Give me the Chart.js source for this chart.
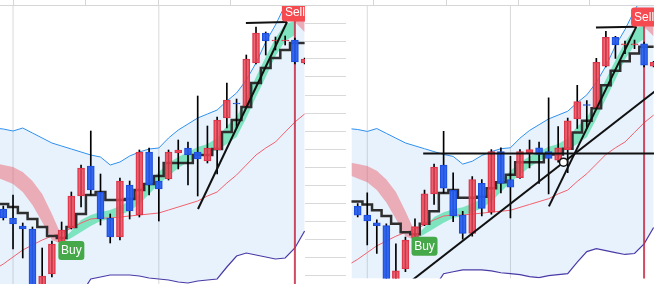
<!DOCTYPE html>
<html><head><meta charset="utf-8">
<script src="https://cdn.jsdelivr.net/npm/chart.js@4.4.1/dist/chart.umd.min.js"></script>
<style>
html,body{margin:0;padding:0;background:#fff;overflow:hidden;width:654px;height:284px;}
#wrap{position:relative;width:654px;height:284px;overflow:hidden;}
canvas{position:absolute;top:0;}
#c1{left:0;}
#c2{left:346px;}
#strip{position:absolute;left:0;top:0;width:654px;height:5px;background:#fff;border-bottom:1px solid #d6d6d6;z-index:2;}
.sep{position:absolute;top:0;width:1px;height:5px;background:#d6d6d6;}
</style></head><body>
<div id="wrap">
<canvas id="c1" width="346" height="284"></canvas>
<canvas id="c2" width="349" height="284"></canvas>
<div id="strip">
<div class="sep" style="left:13px"></div><div class="sep" style="left:85px"></div>
<div class="sep" style="left:158px"></div><div class="sep" style="left:230px"></div>
<div class="sep" style="left:373px"></div><div class="sep" style="left:446px"></div>
<div class="sep" style="left:518px"></div><div class="sep" style="left:589px"></div>
</div>
</div>
<script>
// ---- data (price points) ----
const candleIndex = [-1,0,1,2,3,4,5,6,7,8,9,10,11,12,13,14,15,16,17,18,19,20,21,22,23,24,25,26,27,28,29,30,31];
const openPrice  = [null,102,93,85,82,11,37,69,83,115,145,119,93,74,126,96,159,130,132,158,163,159,150,161,193,208,205,248,278,270,270,271,248];
const highPrice  = [null,105,116,88,84,63,70,89,119,146,180,137,97,133,130,161,163,154,161,171,169,215,185,194,228,212,256,284,279,274,275,273,253];
const lowPrice   = [null,91,62,53,1,6,34,66,82,104,116,86,68,71,92,94,116,90,131,142,126,115,148,137,183,183,204,247,256,261,266,247,247];
const closePrice = [null,93,87,82,11,35,67,81,115,143,121,92,74,130,100,159,126,122,159,161,156,152,163,191,211,207,252,278,270,271,271,249,252];

const bbUpper  = [183,182,180,183,178,173,168,165,162,159,156,154,146,149,155,159,162,163,173,181,187,193,197,201,210,218,231,248,269,286,306,323,336];
const bbMiddle = [41,47,54,61,66,71,75,78,83,88,92,93,93,94,95,96,97,98,101,104,107,110,115,119,128,136,146,156,163,169,179,189,197];
const bbLower  = [-101,-88,-72,-61,-46,-31,-18,-9,4,17,32,34,36,36,36,35,33,32,31,29,28,30,31,32,44,55,58,56,54,52,53,63,80];
const baseLine = [107,107,104,98,92,84,75,73,84,97,116,119,111,111,112,121,127,135,148,148,148,156,156,162,179,191,204,228,243,253,261,268,268];

const bearCloudTop    = [148,146,144,139,130,117,97,75,null,null,null,null,null,null,null,null,null,null,null,null,null,null,null,null,null,null,null,null,null,null,null,291,293];
const bearCloudBottom = [135,131,127,119,106,89,71,67,null,null,null,null,null,null,null,null,null,null,null,null,null,null,null,null,null,null,null,null,null,null,null,289,279];
const bullCloudTop    = [null,null,null,null,null,null,null,71,80,91,96,99,101,105,110,117,129,139,148,154,159,164,167,173,185,194,213,234,254,273,287,290,null];
const bullCloudBottom = [null,null,null,null,null,null,null,68,73,79,85,90,92,96,100,107,117,127,135,143,149,155,159,161,167,174,193,214,234,255,270,276,null];

const signalIndex = [7, 30];
const signalLabel = ['Buy', 'Sell'];
const signalPrice = [60.5, 299];
const sellLineTop = 291;

const trendSteep      = [{x:20.03,y:102},{x:29.19,y:289}];
const trendTop        = [{x:24.96,y:288},{x:29.19,y:289}];
const trendHorizontal = [{x:6.86,y:157},{x:32,y:157}];
const trendDiagonal   = [{x:5.6,y:24.4},{x:31.5,y:224.6}];
const touchPoint      = [{x:21.56,y:148}];

const gridPrices = [36,54,72,90,108,126,144,162,180,198,216,234,252,270,288];
const timeGridIndex = [1,16];
const priceMin = 27, priceMax = 311;

// ---- helpers ----
function pts(arr, keepGaps){
  const out = [];
  candleIndex.forEach((x,k)=>{
    const v = arr[k];
    if (v !== null && v !== undefined) out.push({x, y:v});
    else if (keepGaps) out.push({x, y:null});
  });
  return out;
}
function lineDs(data, color, width, order, extra){
  return Object.assign({type:'line', data, borderColor:color, borderWidth:width, pointRadius:0,
    tension:0, fill:false, spanGaps:false, order}, extra||{});
}

const signalPlugin = {
  id:'signals',
  afterDatasetsDraw(chart){
    const {ctx, chartArea:a} = chart;
    const xs = chart.scales.x, ys = chart.scales.y;
    ctx.save();
    ctx.beginPath(); ctx.rect(a.left, a.top, a.right-a.left, a.bottom-a.top); ctx.clip();
    ctx.font = '12px "Liberation Sans", Arial, sans-serif';
    ctx.textAlign = 'center'; ctx.textBaseline = 'middle';
    signalIndex.forEach((si,k)=>{
      const cx = xs.getPixelForValue(si), cy = ys.getPixelForValue(signalPrice[k]);
      const w = 26, h = 19, r = 3;
      ctx.fillStyle = signalLabel[k] === 'Buy' ? '#45a849' : '#f54a50';
      ctx.beginPath();
      if (ctx.roundRect) ctx.roundRect(cx-w/2, cy-h/2, w, h, r); else ctx.rect(cx-w/2, cy-h/2, w, h);
      ctx.fill();
      ctx.fillStyle = '#ffffff';
      ctx.fillText(signalLabel[k], cx, cy+0.5);
    });
    ctx.restore();
  }
};

function makeChart(id, xMin, withExtra){
  const wick = [], body = [], bodyBg = [], bodyBorder = [];
  candleIndex.forEach((x,k)=>{
    if (openPrice[k] === null) return;
    wick.push({x, y:[lowPrice[k], highPrice[k]]});
    body.push({x, y:[openPrice[k], closePrice[k]]});
    const up = closePrice[k] >= openPrice[k];
    bodyBg.push(up ? 'rgba(240,68,86,0.82)' : 'rgba(38,92,240,0.92)');
    bodyBorder.push(up ? '#d8364a' : '#1f4fd8');
  });
  const ds = [];
  ds.push(lineDs(pts(bbLower), '#4a3aa6', 1.2, 19));                                   // 0
  ds.push(lineDs(pts(bbUpper), '#2f90ee', 1, 20, {fill:{target:0}, backgroundColor:'rgba(33,140,235,0.11)'})); // 1
  ds.push(lineDs(pts(bearCloudBottom,true), 'rgba(0,0,0,0)', 0, 17));                  // 2
  ds.push(lineDs(pts(bearCloudTop,true), 'rgba(0,0,0,0)', 0, 18, {fill:{target:2}, backgroundColor:'rgba(238,86,96,0.45)'})); // 3
  ds.push(lineDs(pts(bullCloudBottom,true), 'rgba(0,0,0,0)', 0, 17));                  // 4
  ds.push(lineDs(pts(bullCloudTop,true), 'rgba(0,0,0,0)', 0, 18, {fill:{target:4}, backgroundColor:'rgba(20,215,130,0.5)'})); // 5
  timeGridIndex.forEach(t=>{
    ds.push(lineDs([{x:t,y:priceMin},{x:t,y:priceMax}], '#d9d9d9', 1, 30));
  });
  ds.push(lineDs(pts(bbMiddle), '#f2606c', 1, 15));
  ds.push(lineDs(pts(baseLine), '#2e2e2e', 2.5, 12, {stepped:'middle'}));
  ds.push(lineDs([{x:signalIndex[1], y:sellLineTop},{x:signalIndex[1], y:priceMin-5}], 'rgba(200,45,70,0.85)', 2, 9));
  ds.push({type:'bar', data:wick, backgroundColor:'#000', borderWidth:0, barThickness:1, grouped:false, order:8});
  ds.push({type:'bar', data:body, backgroundColor:bodyBg, borderColor:bodyBorder, borderWidth:1,
           borderSkipped:false, barThickness:7, grouped:false, order:7});
  ds.push(lineDs(trendSteep, '#111', 2, 3));
  ds.push(lineDs(trendTop, '#111', 2, 3));
  if (withExtra){
    ds.push(lineDs(trendHorizontal, '#111', 2, 3));
    ds.push(lineDs(trendDiagonal, '#111', 2, 3));
    ds.push({type:'line', data:touchPoint, showLine:false, pointRadius:4, pointBackgroundColor:'#fff',
             pointBorderColor:'#111', pointBorderWidth:1.5, order:2});
  }
  return new Chart(document.getElementById(id), {
    type:'line',
    data:{datasets:ds},
    options:{
      responsive:false, animation:false, events:[],
      layout:{padding:0},
      plugins:{legend:{display:false}, tooltip:{enabled:false}},
      scales:{
        x:{type:'linear', display:false, min:xMin, max:31.04, offset:false, grid:{offset:false}},
        y:{type:'linear', position:'right', min:priceMin, max:priceMax,
           ticks:{display:false}, border:{display:false},
           grid:{drawOnChartArea:false, drawTicks:true, tickLength:41, color:'#d9d9d9'},
           afterBuildTicks:s=>{ s.ticks = gridPrices.map(v=>({value:v})); }}
      }
    },
    plugins:[signalPlugin]
  });
}
makeChart('c1', -0.34, false);
makeChart('c2', -0.65, true);
</script>
</body></html>
